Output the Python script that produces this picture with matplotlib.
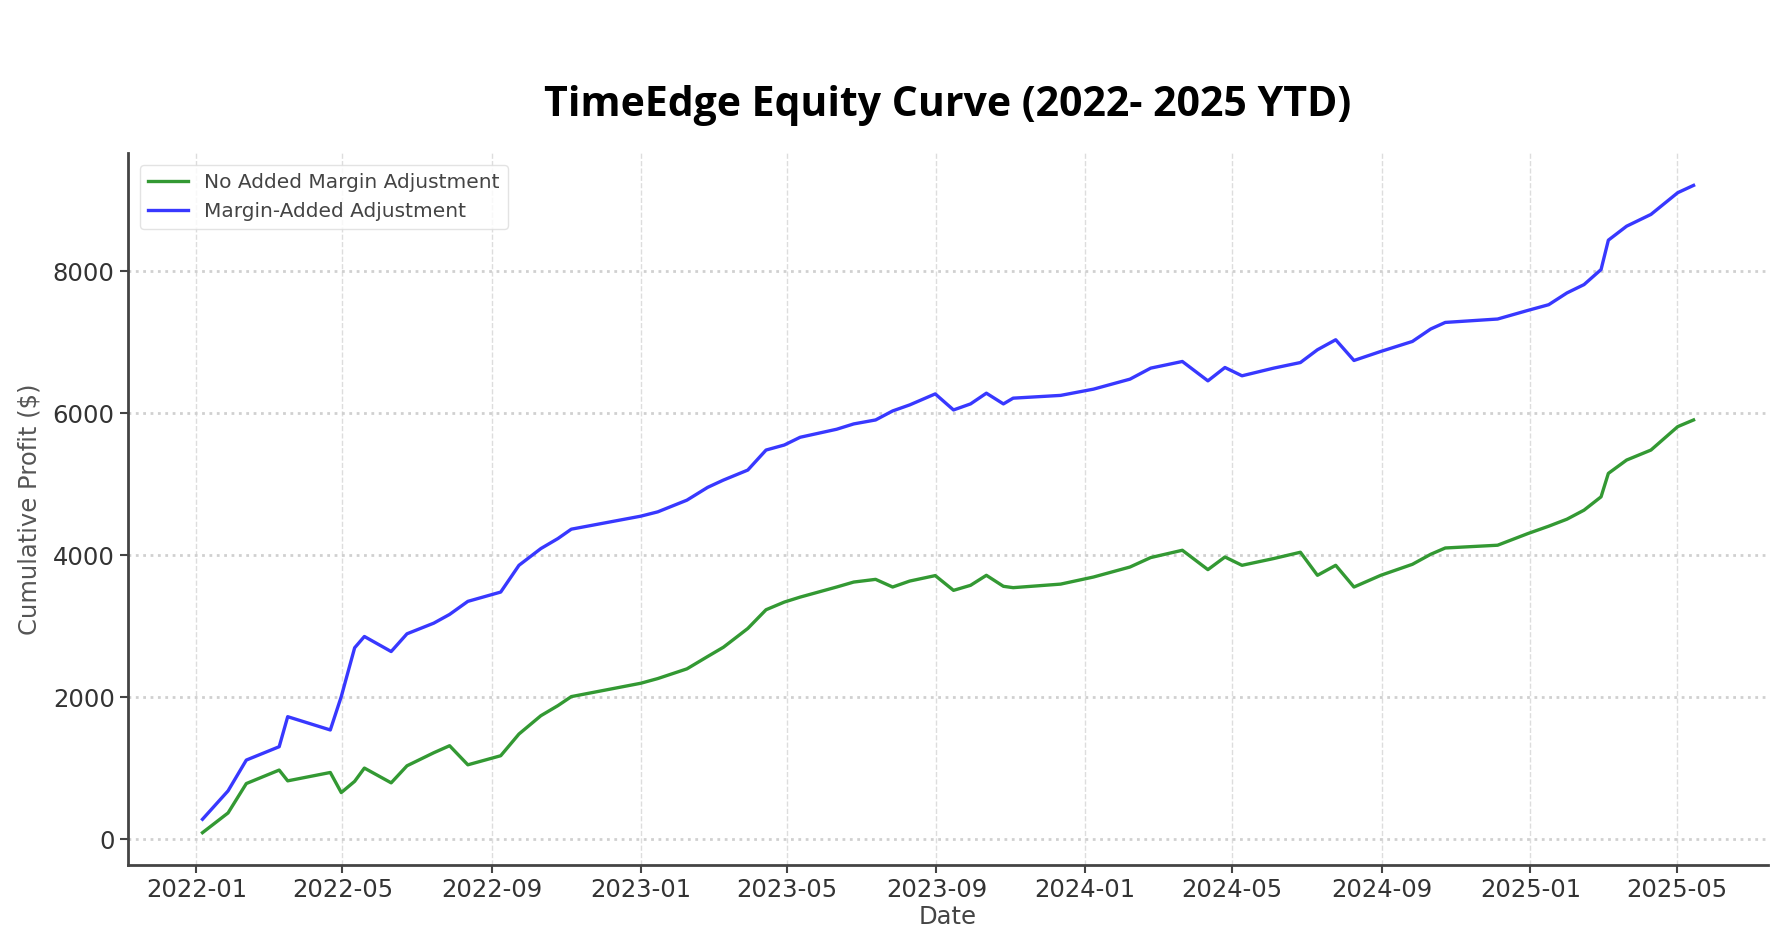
import pandas as pd
import matplotlib as mpl
mpl.use('Agg')
import matplotlib.pyplot as plt
import matplotlib.dates as mdates

# values
dates = ['2022-01-06', '2022-01-27', '2022-02-11', '2022-03-10', '2022-03-17',
         '2022-04-21', '2022-04-30', '2022-05-11', '2022-05-19', '2022-06-10',
         '2022-06-23', '2022-07-15', '2022-07-28', '2022-08-12', '2022-09-08',
         '2022-09-23', '2022-10-11', '2022-10-25', '2022-11-05', '2023-01-01',
         '2023-01-15', '2023-02-08', '2023-02-25', '2023-03-10', '2023-03-30',
         '2023-04-14', '2023-04-29', '2023-05-12', '2023-06-11', '2023-06-25',
         '2023-07-13', '2023-07-27', '2023-08-10', '2023-08-31', '2023-09-15',
         '2023-09-29', '2023-10-12', '2023-10-26', '2023-11-03', '2023-12-12',
         '2024-01-08', '2024-02-07', '2024-02-24', '2024-03-21', '2024-04-11',
         '2024-04-25', '2024-05-09', '2024-06-04', '2024-06-26', '2024-07-10',
         '2024-07-25', '2024-08-09', '2024-08-31', '2024-09-26', '2024-10-11',
         '2024-10-23', '2024-12-05', '2024-12-30', '2025-01-16', '2025-01-31',
         '2025-02-14', '2025-02-28', '2025-03-06', '2025-03-21', '2025-04-10',
         '2025-05-02', '2025-05-15']

no_margin = [93, 371, 785, 975, 823, 941, 658, 816, 1003, 795,
             1035, 1219, 1318, 1049, 1177, 1483, 1741, 1883, 2010, 2198,
             2264, 2401, 2575, 2706, 2970, 3234, 3342, 3412, 3554, 3624,
             3662, 3554, 3638, 3715, 3507, 3578, 3719, 3564, 3545, 3595,
             3695, 3836, 3969, 4072, 3799, 3977, 3860, 3955, 4044, 3719,
             3860, 3554, 3719, 3874, 4015, 4104, 4143, 4308, 4411, 4510,
             4637, 4825, 5155, 5343, 5484, 5814, 5908]

margin_added = [282, 682, 1116, 1304, 1727, 1540, 2010, 2698, 2857, 2645,
                2895, 3045, 3168, 3352, 3483, 3860, 4096, 4237, 4369, 4552,
                4613, 4778, 4958, 5061, 5202, 5484, 5555, 5664, 5777, 5852,
                5908, 6035, 6120, 6275, 6049, 6134, 6285, 6134, 6215, 6254,
                6342, 6483, 6638, 6732, 6459, 6647, 6530, 6638, 6717, 6897,
                7038, 6746, 6873, 7014, 7189, 7282, 7330, 7452, 7532, 7698,
                7815, 8027, 8441, 8638, 8804, 9110, 9213]

x = pd.to_datetime(dates)

fig = plt.figure(figsize=(17.77, 9.51), dpi=100)
ax = fig.add_axes([0.072, 0.0904, 0.923, 0.7487])

ax.plot(x, no_margin, color='#339933', lw=2.4, label='No Added Margin Adjustment')
ax.plot(x, margin_added, color='#3838ff', lw=2.4, label='Margin-Added Adjustment')

ax.xaxis.set_major_locator(mdates.MonthLocator(bymonth=[1, 5, 9]))
ax.xaxis.set_major_formatter(mdates.DateFormatter('%Y-%m'))
ax.set_yticks([0, 2000, 4000, 6000, 8000])

ax.yaxis.grid(True, linestyle=':', color='#d0d0d0', lw=2.0)
ax.xaxis.grid(True, linestyle='--', color='#dddddd', lw=1.0)
ax.set_axisbelow(True)

for s in ['top', 'right']:
    ax.spines[s].set_visible(False)
for s in ['left', 'bottom']:
    ax.spines[s].set_color('#444444')
    ax.spines[s].set_linewidth(2.0)
ax.tick_params(labelsize=17.5, colors='#444444', length=6, width=1.5)
for lbl in ax.get_xticklabels() + ax.get_yticklabels():
    lbl.set_color('#333333')

ax.set_xlabel('Date', fontsize=17.5, color='#444444', labelpad=2)
ax.set_ylabel('Cumulative Profit ($)', fontsize=17.5, color='#555555', labelpad=8)

leg = ax.legend(loc='upper left', fontsize=14.5, frameon=True, borderaxespad=0.6)
leg.get_frame().set_edgecolor('#dddddd')
for t in leg.get_texts():
    t.set_color('#444444')

fig.text(0.5335, 0.889, 'TimeEdge Equity Curve (2022- 2025 YTD)', ha='center', va='center',
         fontsize=29.5, fontweight='bold', family=['Open Sans', 'DejaVu Sans'])

fig.savefig('out.png', dpi=100, facecolor='white')
